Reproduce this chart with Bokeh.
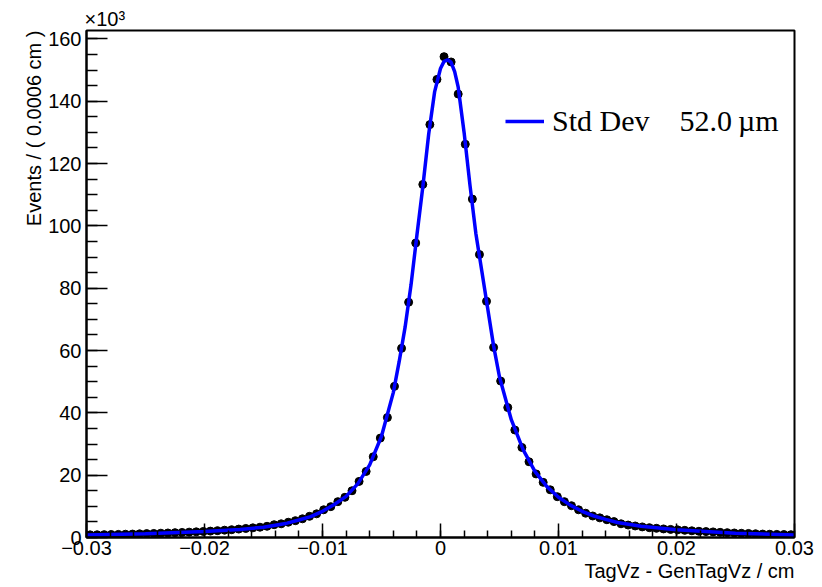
import numpy as np
from bokeh.plotting import figure
from bokeh.models import (Range1d, FixedTicker, CustomJSTickFormatter, Title,
                          Legend, LegendItem)
from bokeh.embed import file_html
from bokeh.resources import INLINE

# ---------------- data (values in units of 10^3 events) ----------------
x_min, x_max = -0.03, 0.03
bin_width = 0.0006
n_bins = 100
events = [
    0.85, 0.88, 0.92, 0.95, 1.0, 1.05, 1.1, 1.18, 1.25, 1.3,
    1.38, 1.45, 1.55, 1.62, 1.72, 1.82, 1.95, 2.05, 2.2, 2.35,
    2.5, 2.7, 2.9, 3.1, 3.3, 3.6, 4.1, 4.4, 4.9, 5.4,
    6.0, 6.8, 7.6, 8.9, 9.9, 11.5, 12.9, 15.0, 18.0, 21.2,
    25.9, 31.9, 38.5, 48.5, 60.7, 75.5, 94.5, 113.3, 132.5, 147.0,
    154.3, 152.6, 142.3, 126.2, 108.6, 90.8, 75.8, 61.0, 50.2, 41.7,
    34.5, 28.9, 24.3, 20.4, 17.7, 15.3, 13.1, 11.5, 10.2, 8.9,
    7.8, 6.9, 6.3, 5.7, 5.1, 4.4, 4.0, 3.7, 3.4, 3.15,
    2.95, 2.75, 2.6, 2.45, 2.3, 2.15, 2.0, 1.9, 1.8, 1.65,
    1.55, 1.45, 1.35, 1.3, 1.2, 1.1, 1.05, 1.0, 0.95, 0.9,
]
fit_x = [-0.03, -0.025, -0.02, -0.017, -0.015, -0.013, -0.012, -0.011, -0.010,
         -0.009, -0.008, -0.007, -0.006, -0.005, -0.004, -0.0035, -0.003,
         -0.0025, -0.002, -0.0015, -0.001, -0.0005, 0.0, 0.0003, 0.0006,
         0.0009, 0.0012, 0.0015, 0.002, 0.0025, 0.003, 0.0035, 0.004, 0.0045,
         0.005, 0.006, 0.007, 0.008, 0.009, 0.010, 0.011, 0.012, 0.013, 0.014,
         0.015, 0.017, 0.02, 0.025, 0.03]
fit_y = [0.8, 1.2, 1.9, 2.6, 3.3, 4.6, 5.6, 6.7, 8.4,
         10.6, 13.2, 17.3, 23.3, 32.5, 46.5, 56.5, 67.5,
         81.0, 97.0, 112.5, 129.5, 143.0, 150.5, 152.8, 153.3,
         152.5, 149.5, 144.5, 130.0, 113.0, 97.5, 85.5, 73.5, 61.5,
         51.5, 37.8, 28.2, 21.2, 16.4, 12.9, 10.4, 8.4, 6.9, 5.8,
         4.8, 3.6, 2.5, 1.4, 0.8]
x_ticks = [-0.03, -0.02, -0.01, 0.0, 0.01, 0.02, 0.03]
y_ticks = [0, 20, 40, 60, 80, 100, 120, 140, 160]
y_max = 162.7
legend_text = "Std Dev\u00a0\u00a0\u00a0\u00a052.0\u2009\u00b5m"
x_title = "TagVz - GenTagVz / cm"
y_title = "Events / ( 0.0006 cm )"
exponent = "\u00d710\u00b3"

centers = x_min + bin_width * (np.arange(n_bins) + 0.5)
ev = np.array(events)

FONT = "Liberation Sans"

# ---------------- figure ----------------
p = figure(width=822, height=587, x_range=Range1d(x_min, x_max),
           y_range=Range1d(0, y_max), output_backend="svg",
           toolbar_location=None, min_border_left=86, min_border_right=28,
           min_border_top=30, min_border_bottom=50,
           title=Title(text=exponent, align="left", offset=-2, standoff=1,
                       text_font=FONT, text_font_size="20px",
                       text_font_style="normal", text_color="black"))
p.grid.visible = False
p.outline_line_color = "black"
p.outline_line_width = 2
p.background_fill_color = "white"
p.border_fill_color = "white"

xa = p.xaxis[0]
x_minor = [round(x_min + 0.002 * k, 4) for k in range(31)]
xa.ticker = FixedTicker(ticks=x_ticks, minor_ticks=x_minor)
xa.formatter = CustomJSTickFormatter(code="""
    if (Math.abs(tick) < 1e-12) { return "0"; }
    return tick.toFixed(2).replace("-", "\\u2212");
""")
xa.major_tick_in = 14
xa.major_tick_out = 0
xa.minor_tick_in = 7
xa.minor_tick_out = 0

ya = p.yaxis[0]
y_minor = [5 * k for k in range(33)]
ya.ticker = FixedTicker(ticks=y_ticks, minor_ticks=y_minor)
ya.major_tick_in = 21
ya.major_tick_out = 0
ya.minor_tick_in = 11
ya.minor_tick_out = 0

for ax in (xa, ya):
    ax.axis_line_width = 2
    ax.major_tick_line_width = 1.5
    ax.minor_tick_line_width = 1.5
    ax.major_label_text_font = FONT
    ax.major_label_text_font_size = "20px"
    ax.major_label_text_color = "black"
xa.major_label_standoff = 3
ya.major_label_standoff = 5

# data: horizontal bin-width bars + markers
p.segment(x0=centers - bin_width / 2, x1=centers + bin_width / 2,
          y0=ev, y1=ev, line_color="black", line_width=1.5)
p.scatter(centers, ev, size=8, fill_color="black", line_color="black")

# fit curve
fit_r = p.line(fit_x, fit_y, line_color="#0000ff", line_width=3.5)

# legend
leg = Legend(items=[LegendItem(label=legend_text, renderers=[fit_r])],
             location=(419, 399), padding=0, margin=0, spacing=0,
             border_line_color=None, background_fill_alpha=0,
             glyph_width=39, glyph_height=20, label_standoff=8,
             label_text_font="Liberation Serif", label_text_font_size="30px",
             label_text_color="black")
p.add_layout(leg)

# axis titles
p.add_layout(Title(text=x_title, align="right", standoff=0,
                   text_font=FONT, text_font_size="20px",
                   text_font_style="normal", text_color="black"), "below")
p.add_layout(Title(text=y_title, align="right", standoff=2,
                   text_font=FONT, text_font_size="20px",
                   text_font_style="normal", text_color="black"), "left")

open("out.html", "w").write(file_html(p, INLINE))
